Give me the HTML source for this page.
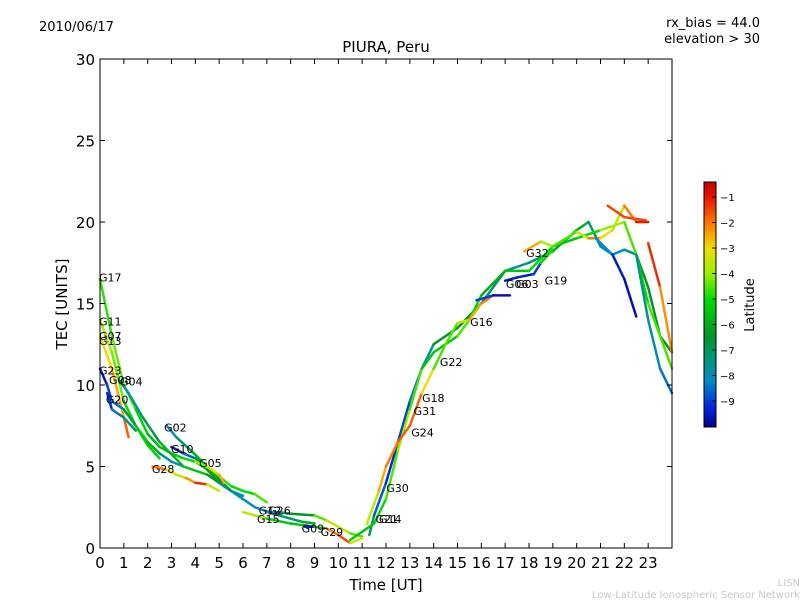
<!DOCTYPE html>
<html><head><meta charset="utf-8"><style>
body{margin:0;background:#fff;}
svg text{font-family:"DejaVu Sans","Liberation Sans",sans-serif;}
</style></head><body>
<svg id="chart" width="800" height="600" xmlns="http://www.w3.org/2000/svg">
<defs>
<linearGradient id="cbgrad" x1="0" y1="1" x2="0" y2="0">
<stop offset="0" stop-color="#00008c"/>
<stop offset="0.083" stop-color="#0028dc"/>
<stop offset="0.187" stop-color="#008cc8"/>
<stop offset="0.291" stop-color="#00966e"/>
<stop offset="0.374" stop-color="#009628"/>
<stop offset="0.52" stop-color="#00dc00"/>
<stop offset="0.624" stop-color="#96f000"/>
<stop offset="0.728" stop-color="#f0dc00"/>
<stop offset="0.832" stop-color="#ff7800"/>
<stop offset="0.937" stop-color="#e61400"/>
<stop offset="1" stop-color="#c80000"/>
</linearGradient>
</defs>
<text x="39" y="31" font-size="13">2010/06/17</text>
<text x="760" y="27" font-size="13" text-anchor="end">rx_bias = 44.0</text>
<text x="760" y="43" font-size="13" text-anchor="end">elevation &gt; 30</text>
<text x="386" y="52" font-size="15" text-anchor="middle">PIURA, Peru</text>
<g id="marks"></g>
<rect x="100" y="59" width="572" height="489" fill="none" stroke="#000" stroke-width="1"/>
<g id="axes"></g>
<text x="386" y="590" font-size="15" text-anchor="middle">Time [UT]</text>
<text x="67" y="304" font-size="15" text-anchor="middle" transform="rotate(-90 67 304)">TEC [UNITS]</text>
<rect x="704" y="182" width="12" height="245" fill="url(#cbgrad)" stroke="#000" stroke-width="1"/>
<g id="cbticks"></g>
<text x="754" y="305" font-size="13" text-anchor="middle" transform="rotate(-90 754 305)">Latitude</text>
<text x="800" y="586" font-size="10" fill="#c8c8c8" text-anchor="end">LISN</text>
<text x="800" y="598" font-size="10" fill="#c8c8c8" text-anchor="end">Low-Latitude Ionospheric Sensor Network</text>
</svg>
<script>
const xTicks=[0,1,2,3,4,5,6,7,8,9,10,11,12,13,14,15,16,17,18,19,20,21,22,23];
const yTicks=[0,5,10,15,20,25,30];
const cbTicks=[-1,-2,-3,-4,-5,-6,-7,-8,-9];
const trackNames=['G17','G11','G07','G23','G04','G20','G02','G10','G05','G28','G15','G12','G09','G21','G14','G24','G32','G27','G25','G01','G06','G19','G33'];
const tracks=[
[[0,16.5,-5],[0.5,13,-4.5],[1,10,-4],[1.5,8.5,-5],[2,7,-5.5],[2.5,6.2,-6],[3,5.8,-5.5],[3.5,5.5,-5],[4,5.3,-5],[4.5,4.8,-6],[5,4,-6.5],[5.5,3.5,-5]],
[[0,14,-4],[0.5,12,-3.5],[1,9,-5],[1.5,7.5,-5],[2,6.3,-5.5],[2.5,5.5,-5]],
[[0,13,-3],[0.5,11,-3],[1,8,-2],[1.2,6.8,-1.5]],
[[0,11,-9.5],[0.3,10,-9],[0.5,9,-8.5],[1,8.5,-8],[1.5,7.5,-5.5],[2,6.5,-5],[2.5,5.8,-7],[3,5.3,-8],[3.5,5,-8]],
[[0.8,10.3,-8],[1.2,9.5,-8],[1.8,8,-7],[2.5,6.5,-6.5],[3.5,5,-5],[4.5,4.5,-6],[5,4,-7],[5.5,3.5,-8],[6,3.2,-8]],
[[0.3,9.5,-9.5],[0.5,8.5,-8.5],[1,8,-8],[1.5,7.2,-6]],
[[2.8,7.5,-8],[3.2,6.8,-8],[3.8,6,-6],[4.5,5,-6],[5,4.2,-6.5],[5.5,3.5,-7],[6,3.0,-8],[6.5,2.5,-8],[7.5,2,-8],[8.5,1.6,-6],[9,1.5,-6]],
[[3,6.2,-9.5],[3.5,5.8,-9],[4,5.5,-8],[4.5,5,-5],[5,4.4,-4.5],[5.5,3.8,-5],[6,3.5,-5],[6.5,3.3,-5],[7,2.8,-4]],
[[4,5.3,-5],[4.5,5,-3],[5,4.5,-3],[5.2,4,-2]],
[[2.2,5,-1.5],[2.8,4.8,-2.5],[3.2,4.5,-4],[3.6,4.3,-3],[4,4.0,-1.5],[4.5,3.9,-1],[5,3.5,-6]],
[[6,2.2,-4],[6.5,2,-3],[7,1.8,-5],[8,1.5,-6],[9,1.3,-5]],
[[7,2.2,-9],[7.5,2.2,-7],[8,2.1,-7],[9,2,-6],[9.5,1.7,-3],[10,1.3,-4],[10.5,0.9,-3],[11,0.7,-6]],
[[8.6,1.3,-9.5],[9,1.3,-9],[9.5,1.2,-2],[10,0.8,-2],[10.5,0.3,-1],[11,0.6,-6]],
[[11.3,0.8,-6],[11.5,2,-8],[12,4,-9],[12.5,6.5,-9],[13,9,-8.5],[13.5,11,-8],[14,12.5,-7],[15,13.5,-6],[16,15,-7],[17,17,-7],[18,17.5,-8],[19,18.2,-6],[20,19.5,-6],[20.5,20,-6],[21,18.5,-8],[21.5,18,-8],[22,18.3,-8],[22.5,18,-7],[23,16,-6],[23.5,13,-7],[24,12,-6]],
[[10.5,0.5,-6],[11.5,1.5,-5],[12,3,-5],[12.5,6,-4],[13,8.5,-4],[13.5,11,-5],[14,12,-6],[15,13,-5],[15.5,14,-4],[16,15.5,-6],[17,17,-6],[18,17,-5],[19,18.5,-5],[20,19,-6],[21,19.5,-4],[22,20,-4],[22.5,18,-5],[23,15,-5],[24,11,-4]],
[[11.2,1.5,-4],[11.7,3.5,-3],[12,5,-2],[12.5,6.5,-2],[13,7.5,-1.5],[13.5,9.5,-2],[14,11,-4],[14.5,12.5,-5],[15,13.8,-4],[15.5,14,-3],[16,15,-2],[16.5,15.5,-2]],
[[17.8,18.2,-1.5],[18.5,18.8,-3.5],[19,18.5,-4],[20,19.4,-5],[20.5,19,-2],[21,19,-2],[21.5,19.5,-4],[22,21,-3],[22.5,20,-1],[23,20,-1]],
[[21.3,21,-1],[22,20.3,-2],[22.9,20.1,-1]],
[[23,18.7,-1],[23.5,16,-1.5],[24,12,-3]],
[[20.8,19,-7],[21.5,18,-9],[22,16.5,-9.5],[22.5,14.2,-9.5]],
[[22.5,18,-7],[23,14,-7.5],[23.5,11,-8],[24,9.5,-8.5]],
[[17,16.4,-9.5],[17.5,16.6,-9],[18.2,16.8,-9.5],[18.5,17.5,-8],[19,18.3,-2]],
[[15.8,15.2,-8],[16.5,15.5,-9.5],[17.2,15.5,-9.5]]
];
const labelNames=['G17','G11','G07','G13','G23','G08','G04','G20','G02','G10','G05','G28','G12','G26','G15','G09','G29','G21','G14','G30','G24','G31','G18','G22','G16','G06','G03','G32','G19'];
const labelTimes=[0,0,0,0,0,0.42,0.88,0.29,2.73,3.02,4.2,2.22,6.7,7.1,6.63,8.5,9.3,11.6,11.75,12.05,13.1,13.2,13.55,14.3,15.57,17.07,17.5,17.92,18.7];
const labelTec=[16.6,13.9,13.0,12.7,10.9,10.3,10.2,9.1,7.4,6.07,5.2,4.85,2.3,2.3,1.77,1.2,0.98,1.77,1.77,3.68,7.1,8.4,9.2,11.4,13.85,16.2,16.2,18.1,16.4];

const X=t=>100+t*572/24, Y=v=>548-v*489/30, CB=l=>197+(l+1)*(-25.5);
const stops=[[-10,[0,0,140]],[-9,[0,40,220]],[-8,[0,140,200]],[-7,[0,150,110]],[-6.5,[0,150,40]],[-5,[0,220,0]],[-4,[150,240,0]],[-3,[240,220,0]],[-2,[255,120,0]],[-1,[230,20,0]],[-0.4,[200,0,0]]];
function col(l){for(let i=0;i<stops.length-1;i++){const a=stops[i],b=stops[i+1];if(l<=b[0]){const f=Math.max(0,(l-a[0])/(b[0]-a[0]));return 'rgb('+a[1].map((c,k)=>Math.round(c+(b[1][k]-c)*f)).join(',')+')';}}return 'rgb(200,0,0)';}
const NS='http://www.w3.org/2000/svg';
const mk=(tag,attrs,parent)=>{const e=document.createElementNS(NS,tag);for(const k in attrs)e.setAttribute(k,attrs[k]);parent.appendChild(e);return e;};
const marks=document.getElementById('marks'), axes=document.getElementById('axes'), cbt=document.getElementById('cbticks');
tracks.forEach((tr,ti)=>{
  const g=mk('g',{},marks);
  
  
  for(let i=0;i<tr.length-1;i++){
    const a=tr[i],b=tr[i+1];
    const s=mk('line',{x1:X(a[0]),y1:Y(a[1]),x2:X(b[0]),y2:Y(b[1]),stroke:col((a[2]+b[2])/2),'stroke-width':2.5,'stroke-linecap':'round'},g);
    
    
  }
});
labelNames.forEach((n,i)=>{
  const t=mk('text',{x:X(labelTimes[i])-1,y:Y(labelTec[i])+4,'font-size':11},marks);
  t.textContent=n;
  
  
});
xTicks.forEach(v=>{
  const x=X(v);
  const l=mk('line',{x1:x,y1:548,x2:x,y2:543,stroke:'#000'},axes);
  
  
  const l2=mk('line',{x1:x,y1:59,x2:x,y2:64,stroke:'#000'},axes);
  
  
  const t=mk('text',{x:x,y:568,'font-size':15,'text-anchor':'middle'},axes);
  t.textContent=v;
  
  
});
yTicks.forEach(v=>{
  const y=Y(v);
  const l=mk('line',{x1:100,y1:y,x2:105,y2:y,stroke:'#000'},axes);
  
  
  const l2=mk('line',{x1:672,y1:y,x2:667,y2:y,stroke:'#000'},axes);
  
  
  const t=mk('text',{x:95,y:y+6,'font-size':15,'text-anchor':'end'},axes);
  t.textContent=v;
  
  
});
cbTicks.forEach(v=>{
  const y=CB(v);
  const l=mk('line',{x1:712,y1:y,x2:716,y2:y,stroke:'#000'},cbt);
  
  
  const t=mk('text',{x:720,y:y+4,'font-size':10},cbt);
  t.textContent='\u2212'+Math.abs(v);
  
  
});
</script>
</body></html>
